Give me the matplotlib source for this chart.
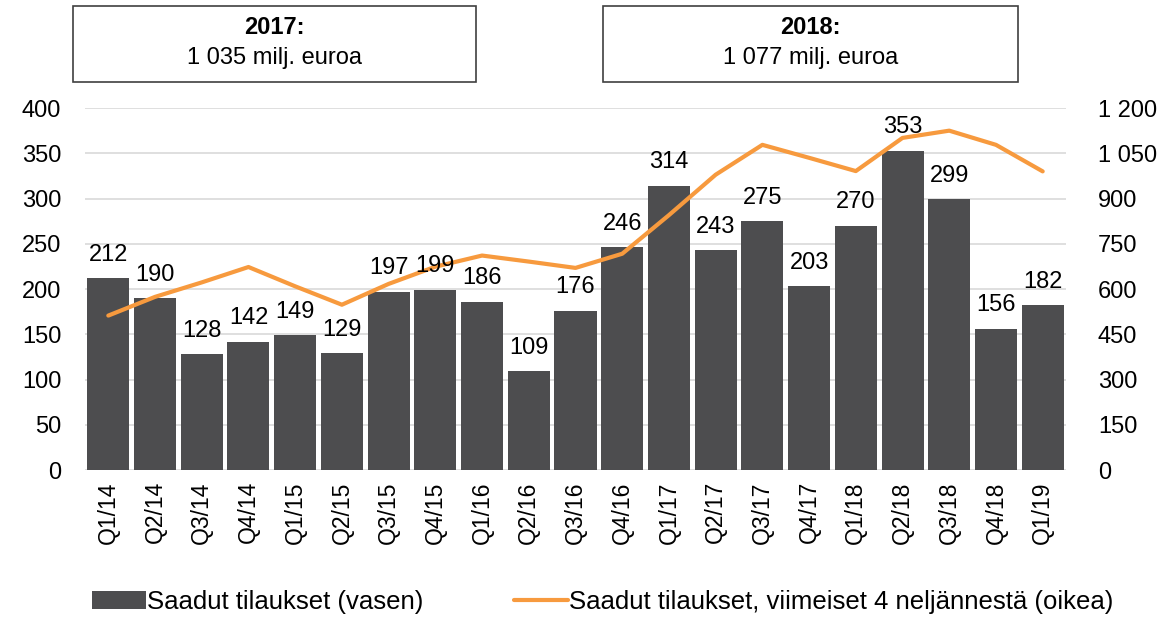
import matplotlib
matplotlib.use("Agg")
import matplotlib.pyplot as plt
from matplotlib.patches import Rectangle
from matplotlib.ticker import FixedLocator

plt.rcParams["font.family"] = ["Liberation Sans", "DejaVu Sans"]

quarters = ["Q1/14", "Q2/14", "Q3/14", "Q4/14", "Q1/15", "Q2/15", "Q3/15",
            "Q4/15", "Q1/16", "Q2/16", "Q3/16", "Q4/16", "Q1/17", "Q2/17",
            "Q3/17", "Q4/17", "Q1/18", "Q2/18", "Q3/18", "Q4/18", "Q1/19"]
orders = [212, 190, 128, 142, 149, 129, 197, 199, 186, 109, 176, 246, 314,
          243, 275, 203, 270, 353, 299, 156, 182]
rolling_4q = [512, 574, 622, 673, 609, 548, 617, 674, 711, 691, 670, 717,
              845, 979, 1078, 1035, 991, 1101, 1125, 1078, 990]
left_ticks = [0, 50, 100, 150, 200, 250, 300, 350, 400]
right_ticks = [0, 150, 300, 450, 600, 750, 900, 1050, 1200]
right_labels = ["0", "150", "300", "450", "600", "750", "900", "1 050", "1 200"]
year_boxes = [("2017:", "1 035 milj. euroa"), ("2018:", "1 077 milj. euroa")]

BAR = "#4d4d4f"
ORANGE = "#f79a3e"
GRID = "#d9d9d9"
FS = 17

fig = plt.figure(figsize=(11.59, 6.17), dpi=100)
fig.patch.set_facecolor("white")
ax = fig.add_axes([0.0733, 0.2382, 0.8465, 0.5867])
ax2 = ax.twinx()

x = list(range(len(quarters)))
bars = ax.bar(x, orders, width=0.9, color=BAR, zorder=2,
              label="Saadut tilaukset (vasen)")

ax.set_xlim(-0.5, len(quarters) - 0.5)
ax.set_ylim(0, 400)
ax.yaxis.set_major_locator(FixedLocator(left_ticks))
ax.grid(axis="y", color=GRID, linewidth=1.2, zorder=0)
ax.set_axisbelow(True)
for s in ax.spines.values():
    s.set_visible(False)
ax.set_xticks(x)
ax.set_xticklabels(quarters, rotation=90, fontsize=16.5)
ax.tick_params(axis="both", length=0)
ax.tick_params(axis="y", labelsize=FS, pad=17)
ax.tick_params(axis="x", pad=8)

line, = ax2.plot(x, rolling_4q, color=ORANGE, linewidth=3, zorder=3,
                 solid_capstyle="round",
                 label="Saadut tilaukset, viimeiset 4 neljännestä (oikea)")
ax2.set_ylim(0, 1200)
ax2.set_yticks(right_ticks)
ax2.set_yticklabels(right_labels)
ax2.tick_params(axis="y", length=0, labelsize=FS, pad=23)
for lab in ax2.get_yticklabels():
    lab.set_ha("left")
for s in ax2.spines.values():
    s.set_visible(False)

# value labels on top of everything
for xi, v in zip(x, orders):
    ax2.annotate(str(v), xy=(xi, v * 3), xytext=(0, 9),
                 textcoords="offset points", ha="center", va="bottom",
                 fontsize=FS, color="black", zorder=5)

# year summary boxes
box_pos = [(73, 476), (603, 1018)]
W, H = 1159, 617
for (title, value), (x0, x1) in zip(year_boxes, box_pos):
    rect = Rectangle((x0 / W, 1 - 82 / H), (x1 - x0) / W, 76 / H,
                     transform=fig.transFigure, fill=False,
                     edgecolor="#404040", linewidth=1.2)
    fig.add_artist(rect)
    cx = (x0 + x1) / 2 / W
    fig.text(cx, 1 - 28 / H, title, ha="center", va="center",
             fontsize=FS, fontweight="bold")
    fig.text(cx, 1 - 58 / H, value, ha="center", va="center", fontsize=FS)

fig.legend([bars, line], [bars.get_label(), line.get_label()],
           loc="center", bbox_to_anchor=(0.52, 1 - 602 / H), ncol=2,
           frameon=False, fontsize=18.5, handlelength=2.1, handletextpad=0.05,
           columnspacing=3.5)

fig.savefig("out.png", dpi=100, facecolor="white")
